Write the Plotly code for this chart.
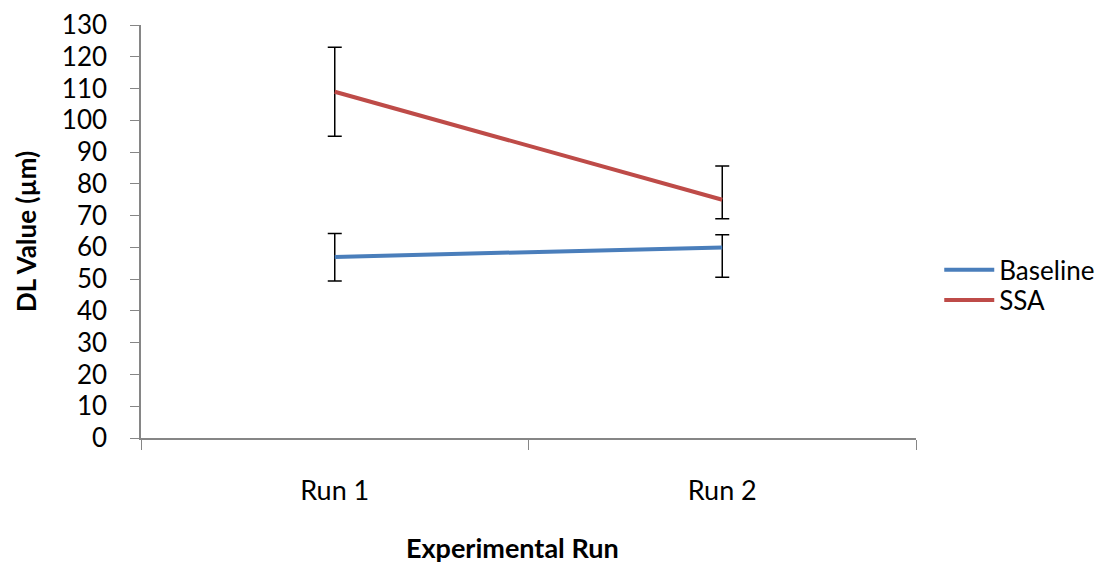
import plotly.graph_objects as go

runs = ["Run 1", "Run 2"]
baseline = [57, 60]
baseline_err_plus = [7.4, 4.0]
baseline_err_minus = [7.6, 9.4]
ssa = [109, 75]
ssa_err_plus = [14, 10.6]
ssa_err_minus = [14, 6]
y_ticks = list(range(0, 131, 10))

FONT = "Lato, 'Open Sans', sans-serif"

fig = go.Figure()
for name, vals, ep, em, color, leg in [
    ("Baseline", baseline, baseline_err_plus, baseline_err_minus, "#4A7EBB", "legend"),
    ("SSA", ssa, ssa_err_plus, ssa_err_minus, "#BE4B48", "legend2"),
]:
    fig.add_trace(go.Scatter(
        x=runs, y=vals, name=name, mode="lines", legend=leg,
        line=dict(color=color, width=4),
        error_y=dict(type="data", symmetric=False, array=ep, arrayminus=em,
                     color="black", thickness=1.5, width=7),
    ))

legend_style = dict(xanchor="left", yanchor="middle", font=dict(size=26, family=FONT),
                    itemwidth=50, bgcolor="rgba(0,0,0,0)", borderwidth=0)

fig.update_layout(
    width=1112, height=565,
    margin=dict(l=141, r=194, t=25, b=127),
    paper_bgcolor="white", plot_bgcolor="white",
    font=dict(family=FONT, color="black"),
    showlegend=True,
    legend=dict(x=1.03, y=0.407, **legend_style),
    legend2=dict(x=1.03, y=0.334, **legend_style),
    xaxis=dict(
        type="category", range=[-0.5, 1.5], automargin=False,
        showline=True, linecolor="#868686", linewidth=1.5,
        ticks="outside", tickson="boundaries", ticklen=10, tickcolor="#868686",
        tickfont=dict(size=27, family=FONT), ticklabelstandoff=28,
        showgrid=False, zeroline=False,
    ),
    yaxis=dict(
        range=[0, 130], tickvals=y_ticks, automargin=False,
        showline=True, linecolor="#868686", linewidth=1.5,
        ticks="outside", ticklen=9, tickcolor="#868686",
        tickfont=dict(size=26, family=FONT), ticklabelstandoff=18,
        showgrid=False, zeroline=False,
        title=dict(text="<b>DL Value (µm)</b>", font=dict(size=26, family=FONT), standoff=18),
    ),
    annotations=[dict(
        text="<b>Experimental Run</b>", xref="paper", yref="paper",
        x=0.479, y=-0.266, xanchor="center", yanchor="middle", showarrow=False,
        font=dict(size=27, family=FONT),
    )],
)

fig.write_html("out.html")
